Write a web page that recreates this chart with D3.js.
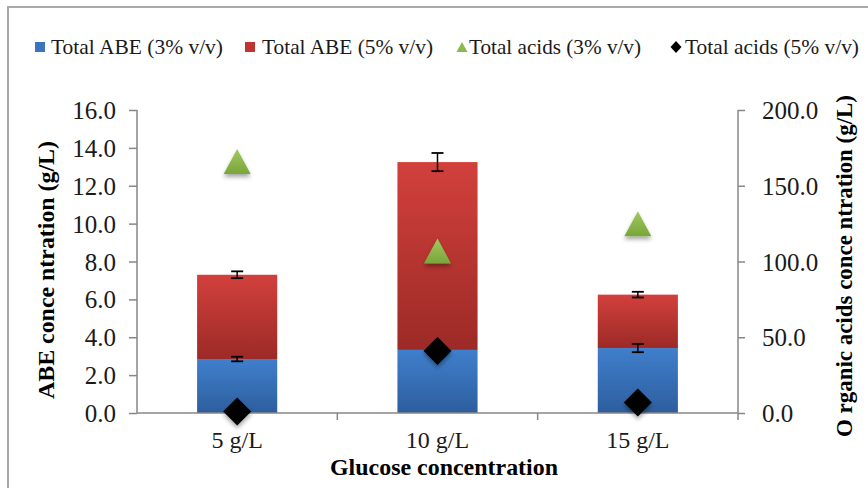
<!DOCTYPE html>
<html><head><meta charset="utf-8">
<script src="https://cdn.jsdelivr.net/npm/d3@7"></script>
<style>
html,body{margin:0;padding:0;background:#fff;}
.sf{font-family:"Liberation Serif","Times New Roman",monospace;}
</style></head>
<body style="margin:0">
<svg id="c" width="868" height="488"></svg>
<script>
const categories = ["5 g/L", "10 g/L", "15 g/L"];
const abe3 = [2.85, 3.33, 3.43];
const abe5 = [4.45, 9.92, 2.82];
const err3 = [0.12, 0.15, 0.22];
const err5 = [0.18, 0.48, 0.15];
const acids3 = [166, 107, 125];
const acids5 = [1, 41, 7];
const leftTicks = [0, 2, 4, 6, 8, 10, 12, 14, 16];
const rightTicks = [0, 50, 100, 150, 200];
const legendLabels = ["Total ABE (3% v/v)", "Total ABE (5% v/v)", "Total acids (3% v/v)", "Total acids (5% v/v)"];

const svg = d3.select("#c");
const L = 137, R = 738, T = 110, B = 413;
const axisCol = "#878787";

const defs = svg.append("defs");
function grad(id, c1, c2) {
  const g = defs.append("linearGradient").attr("id", id).attr("x1", 0).attr("y1", 0).attr("x2", 0).attr("y2", 1);
  g.append("stop").attr("offset", "0%").attr("stop-color", c1);
  g.append("stop").attr("offset", "100%").attr("stop-color", c2);
}
grad("gBlue", "#407fcc", "#2d5e9e");
grad("gRed", "#d2403c", "#9c2a26");
grad("gGreen", "#a0c960", "#7aa53a");
const f = defs.append("filter").attr("id", "sh").attr("x", "-50%").attr("y", "-50%").attr("width", "200%").attr("height", "200%");
f.append("feDropShadow").attr("dx", 0).attr("dy", 3).attr("stdDeviation", 2).attr("flood-color", "#000").attr("flood-opacity", 0.35);

// border
svg.append("rect").attr("x", 8).attr("y", 7).attr("width", 900).attr("height", 520)
  .attr("fill", "none").attr("stroke", "#a9a9a9").attr("stroke-width", 2);

const x = d3.scaleBand().domain(categories).range([L, R]).paddingInner(0.6).paddingOuter(0.3);
const yL = d3.scaleLinear().domain([0, 16]).range([B, T]);
const yR = d3.scaleLinear().domain([0, 200]).range([B, T]);
const step = x.step();

// bars
const g = svg.append("g");
categories.forEach((c, i) => {
  g.append("rect").attr("x", x(c)).attr("width", x.bandwidth())
    .attr("y", yL(abe3[i])).attr("height", yL(0) - yL(abe3[i])).attr("fill", "url(#gBlue)");
  const top = abe3[i] + abe5[i];
  g.append("rect").attr("x", x(c)).attr("width", x.bandwidth())
    .attr("y", yL(top)).attr("height", yL(abe3[i]) - yL(top)).attr("fill", "url(#gRed)");
});

// axes
const axL = d3.axisLeft(yL).tickValues(leftTicks).tickFormat(d3.format(".1f")).tickSize(8).tickPadding(13);
const gl = svg.append("g").attr("transform", `translate(${L},0)`).call(axL);
const axR = d3.axisRight(yR).tickValues(rightTicks).tickFormat(d3.format(".1f")).tickSize(7).tickPadding(17);
const gr = svg.append("g").attr("transform", `translate(${R},0)`).call(axR);
[gl, gr].forEach(a => {
  a.attr("font-family", null).attr("font-size", null);
  a.select(".domain").remove();
  a.selectAll(".tick line").attr("stroke", axisCol).attr("stroke-width", 1.5);
  a.selectAll(".tick text").attr("font-size", 25).attr("fill", "#1a1a1a").attr("dy", "0.34em");
});
svg.append("line").attr("x1", L).attr("x2", L).attr("y1", T).attr("y2", B).attr("stroke", axisCol).attr("stroke-width", 1.5);
svg.append("line").attr("x1", R).attr("x2", R).attr("y1", T).attr("y2", B).attr("stroke", axisCol).attr("stroke-width", 1.5);
svg.append("line").attr("x1", L).attr("x2", R).attr("y1", B).attr("y2", B).attr("stroke", axisCol).attr("stroke-width", 1.5);
// x ticks at category boundaries
const bounds = categories.map(c => x(c) + x.bandwidth() + (step - x.bandwidth()) / 2);
bounds.forEach(bx => {
  svg.append("line").attr("x1", bx).attr("x2", bx).attr("y1", B).attr("y2", B + 7).attr("stroke", axisCol).attr("stroke-width", 1.5);
});
categories.forEach(c => {
  svg.append("text").attr("x", x(c) + x.bandwidth() / 2).attr("y", 448).attr("text-anchor", "middle")
    .attr("font-size", 24).attr("fill", "#1a1a1a").text(c);
});

// error bars
function ebar(cx, v, e) {
  const cap = 6;
  svg.append("line").attr("x1", cx).attr("x2", cx).attr("y1", yL(v - e)).attr("y2", yL(v + e)).attr("stroke", "#000").attr("stroke-width", 1.5);
  [v - e, v + e].forEach(val => svg.append("line").attr("x1", cx - cap).attr("x2", cx + cap).attr("y1", yL(val)).attr("y2", yL(val)).attr("stroke", "#000").attr("stroke-width", 1.8));
}
categories.forEach((c, i) => {
  const cx = x(c) + x.bandwidth() / 2;
  ebar(cx, abe3[i], err3[i]);
  ebar(cx, abe3[i] + abe5[i], err5[i]);
});

// markers
const triPath = (w, h) => `M0,${-h/2}L${w/2},${h/2}L${-w/2},${h/2}Z`;
const diaPath = (w, h) => `M0,${-h/2}L${w/2},0L0,${h/2}L${-w/2},0Z`;
categories.forEach((c, i) => {
  const cx = x(c) + x.bandwidth() / 2;
  svg.append("path").attr("d", triPath(27, 25)).attr("transform", `translate(${cx},${yR(acids3[i])})`)
    .attr("fill", "url(#gGreen)").attr("filter", "url(#sh)");
  svg.append("path").attr("d", diaPath(28, 28)).attr("transform", `translate(${cx},${yR(acids5[i])})`)
    .attr("fill", "#000").attr("filter", "url(#sh)");
});

// axis titles
svg.append("text").attr("transform", "translate(54,270) rotate(-90)").attr("text-anchor", "middle")
  .attr("font-size", 23).attr("font-weight", "bold").attr("textLength", 258).attr("lengthAdjust", "spacingAndGlyphs")
  .text("ABE  conce ntration (g/L)");
svg.append("text").attr("transform", "translate(852,266) rotate(-90)").attr("text-anchor", "middle")
  .attr("font-size", 23).attr("font-weight", "bold").attr("textLength", 342).attr("lengthAdjust", "spacingAndGlyphs")
  .text("O rganic acids conce ntration (g/L)");
svg.append("text").attr("x", 444).attr("y", 475).attr("text-anchor", "middle")
  .attr("font-size", 23).attr("font-weight", "bold").attr("textLength", 228).attr("lengthAdjust", "spacingAndGlyphs")
  .text("Glucose concentration");

// legend
const lg = svg.append("g");
const ly = 54;
const items = [
  {sx: 40, tx: 51, tw: 172, type: "sq", fill: "#3b75c0"},
  {sx: 250, tx: 262, tw: 171, type: "sq", fill: "#c0332f"},
  {sx: 462, tx: 469, tw: 172, type: "tri", fill: "#8cb84c"},
  {sx: 676, tx: 685, tw: 174, type: "dia", fill: "#000"}
];
items.forEach((it, i) => {
  if (it.type === "sq") lg.append("rect").attr("x", it.sx - 5).attr("y", 42).attr("width", 10).attr("height", 10).attr("fill", it.fill);
  else if (it.type === "tri") lg.append("path").attr("d", triPath(11, 10)).attr("transform", `translate(${it.sx},47)`).attr("fill", it.fill);
  else lg.append("path").attr("d", diaPath(11, 12)).attr("transform", `translate(${it.sx},47)`).attr("fill", it.fill);
  lg.append("text").attr("x", it.tx).attr("y", ly).attr("font-size", 21).attr("fill", "#1a1a1a").attr("textLength", it.tw)
    .attr("lengthAdjust", "spacingAndGlyphs").text(legendLabels[i]);
});

svg.selectAll("text")
  .attr("class", "sf")
  .attr("font-family", "Liberation Serif")
  .style("font-family", '"Liberation Serif", "Times New Roman", monospace');
</script>
</body></html>
